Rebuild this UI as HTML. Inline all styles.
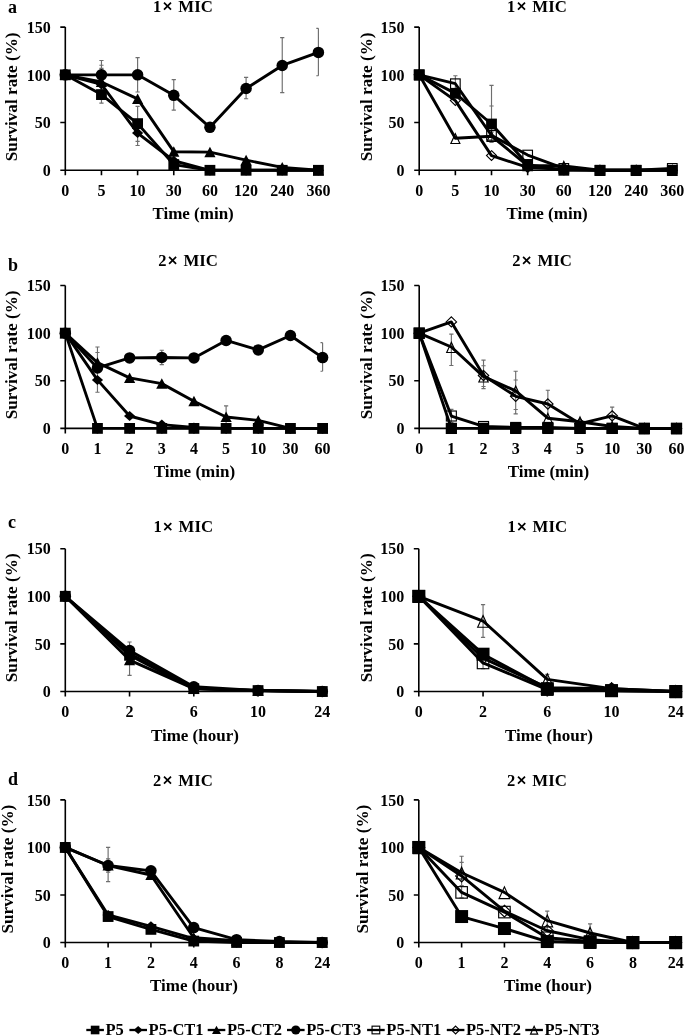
<!DOCTYPE html>
<html><head><meta charset="utf-8"><style>
html,body{margin:0;padding:0;background:#fff;}
body{width:685px;height:1036px;overflow:hidden;font-family:"Liberation Serif",serif;}
svg{display:block;filter:grayscale(1);}
</style></head><body>
<svg width="685" height="1036" viewBox="0 0 685 1036" font-family="Liberation Serif" font-weight="bold" font-size="16"><rect width="685" height="1036" fill="#fff"/><text x="7.9" y="12.5" font-size="18">a</text><path d="M65.3 27.1V170.3H318.4" fill="none" stroke="#000" stroke-width="1.6"/>
<path d="M60.3 170.3H65.3M60.3 122.57H65.3M60.3 74.83H65.3M60.3 27.1H65.3M65.3 170.3V175.3M101.46 170.3V175.3M137.61 170.3V175.3M173.77 170.3V175.3M209.93 170.3V175.3M246.09 170.3V175.3M282.24 170.3V175.3M318.4 170.3V175.3" stroke="#000" stroke-width="1.6"/>
<text x="50.7" y="176" text-anchor="end">0</text>
<text x="50.7" y="128.27" text-anchor="end">50</text>
<text x="50.7" y="80.53" text-anchor="end">100</text>
<text x="50.7" y="32.8" text-anchor="end">150</text>
<text x="65.3" y="195.5" text-anchor="middle">0</text>
<text x="101.46" y="195.5" text-anchor="middle">5</text>
<text x="137.61" y="195.5" text-anchor="middle">10</text>
<text x="173.77" y="195.5" text-anchor="middle">30</text>
<text x="209.93" y="195.5" text-anchor="middle">60</text>
<text x="246.09" y="195.5" text-anchor="middle">120</text>
<text x="282.24" y="195.5" text-anchor="middle">240</text>
<text x="318.4" y="195.5" text-anchor="middle">360</text>
<text x="153.1" y="11.8" font-size="16.5">1<tspan x="178.3" font-size="16.8">MIC</tspan></text>
<path d="M164 2.6L171 9.6M171 2.6L164 9.6" stroke="#000" stroke-width="1.7"/>
<text x="152.4" y="218.8" font-size="17">Time (min)</text>
<text transform="translate(17.1 96.9) rotate(-90)" text-anchor="middle" font-size="17.2">Survival rate (%)</text>
<path d="M101.46 60.51V90.11M99.36 60.51H103.56M99.36 90.11H103.56M101.46 65.29V93.93M99.36 65.29H103.56M99.36 93.93H103.56M101.46 68.34V98.7M99.36 68.34H103.56M99.36 98.7H103.56M101.46 86.29V103.09M99.36 86.29H103.56M99.36 103.09H103.56M137.61 57.65V92.02M135.51 57.65H139.71M135.51 92.02H139.71M137.61 106.34V141.37M135.51 106.34H139.71M135.51 141.37H139.71M137.61 120.66V145.48M135.51 120.66H139.71M135.51 145.48H139.71M173.77 79.61V110.16M171.67 79.61H175.87M171.67 110.16H175.87M246.09 77.41V98.7M243.99 77.41H248.19M243.99 98.7H248.19M282.24 37.6V92.69M280.14 37.6H284.34M280.14 92.69H284.34M318.4 28.34V75.79M316.3 28.34H318.4M316.3 75.79H318.4" fill="none" stroke="#6e6e6e" stroke-width="1.15"/>
<polyline points="65.3,74.83 101.46,84.38 137.61,133.07 173.77,160.75 209.93,170.3 246.09,170.3 282.24,170.3 318.4,170.3" fill="none" stroke="#000" stroke-width="2.9" stroke-linejoin="round"/>
<path d="M65.3 69.83L70.9 74.83L65.3 79.83L59.7 74.83Z" fill="#000"/>
<path d="M101.46 79.38L107.06 84.38L101.46 89.38L95.86 84.38Z" fill="#000"/>
<path d="M137.61 128.07L143.21 133.07L137.61 138.07L132.01 133.07Z" fill="#000"/>
<path d="M173.77 155.75L179.37 160.75L173.77 165.75L168.17 160.75Z" fill="#000"/>
<path d="M209.93 165.3L215.53 170.3L209.93 175.3L204.33 170.3Z" fill="#000"/>
<path d="M246.09 165.3L251.69 170.3L246.09 175.3L240.49 170.3Z" fill="#000"/>
<path d="M282.24 165.3L287.84 170.3L282.24 175.3L276.64 170.3Z" fill="#000"/>
<path d="M318.4 165.3L324 170.3L318.4 175.3L312.8 170.3Z" fill="#000"/>
<polyline points="65.3,74.83 101.46,81.99 137.61,98.89 173.77,151.68 209.93,152.16 246.09,160.09 282.24,167.44 318.4,170.3" fill="none" stroke="#000" stroke-width="2.9" stroke-linejoin="round"/>
<path d="M65.3 69.43L70.9 79.93L59.7 79.93Z" fill="#000"/>
<path d="M101.46 76.59L107.06 87.09L95.86 87.09Z" fill="#000"/>
<path d="M137.61 93.49L143.21 103.99L132.01 103.99Z" fill="#000"/>
<path d="M173.77 146.28L179.37 156.78L168.17 156.78Z" fill="#000"/>
<path d="M209.93 146.76L215.53 157.26L204.33 157.26Z" fill="#000"/>
<path d="M246.09 154.69L251.69 165.19L240.49 165.19Z" fill="#000"/>
<path d="M282.24 162.04L287.84 172.54L276.64 172.54Z" fill="#000"/>
<path d="M318.4 164.9L324 175.4L312.8 175.4Z" fill="#000"/>
<polyline points="65.3,74.83 101.46,74.83 137.61,74.83 173.77,95.36 209.93,127.34 246.09,88.49 282.24,65.48 318.4,52.4" fill="none" stroke="#000" stroke-width="2.9" stroke-linejoin="round"/>
<circle cx="65.3" cy="74.83" r="5.75" fill="#000"/>
<circle cx="101.46" cy="74.83" r="5.75" fill="#000"/>
<circle cx="137.61" cy="74.83" r="5.75" fill="#000"/>
<circle cx="173.77" cy="95.36" r="5.75" fill="#000"/>
<circle cx="209.93" cy="127.34" r="5.75" fill="#000"/>
<circle cx="246.09" cy="88.49" r="5.75" fill="#000"/>
<circle cx="282.24" cy="65.48" r="5.75" fill="#000"/>
<circle cx="318.4" cy="52.4" r="5.75" fill="#000"/>
<polyline points="65.3,74.83 101.46,94.59 137.61,123.62 173.77,164.57 209.93,170.3 246.09,170.3 282.24,170.3 318.4,170.3" fill="none" stroke="#000" stroke-width="2.9" stroke-linejoin="round"/>
<rect x="59.9" y="69.43" width="10.8" height="10.8" fill="#000"/>
<rect x="96.06" y="89.19" width="10.8" height="10.8" fill="#000"/>
<rect x="132.21" y="118.22" width="10.8" height="10.8" fill="#000"/>
<rect x="168.37" y="159.17" width="10.8" height="10.8" fill="#000"/>
<rect x="204.53" y="164.9" width="10.8" height="10.8" fill="#000"/>
<rect x="240.69" y="164.9" width="10.8" height="10.8" fill="#000"/>
<rect x="276.84" y="164.9" width="10.8" height="10.8" fill="#000"/>
<rect x="313" y="164.9" width="10.8" height="10.8" fill="#000"/><path d="M419.2 27.1V170.3H672.3" fill="none" stroke="#000" stroke-width="1.6"/>
<path d="M414.2 170.3H419.2M414.2 122.57H419.2M414.2 74.83H419.2M414.2 27.1H419.2M419.2 170.3V175.3M455.36 170.3V175.3M491.51 170.3V175.3M527.67 170.3V175.3M563.83 170.3V175.3M599.99 170.3V175.3M636.14 170.3V175.3M672.3 170.3V175.3" stroke="#000" stroke-width="1.6"/>
<text x="404.6" y="176" text-anchor="end">0</text>
<text x="404.6" y="128.27" text-anchor="end">50</text>
<text x="404.6" y="80.53" text-anchor="end">100</text>
<text x="404.6" y="32.8" text-anchor="end">150</text>
<text x="419.2" y="195.5" text-anchor="middle">0</text>
<text x="455.36" y="195.5" text-anchor="middle">5</text>
<text x="491.51" y="195.5" text-anchor="middle">10</text>
<text x="527.67" y="195.5" text-anchor="middle">30</text>
<text x="563.83" y="195.5" text-anchor="middle">60</text>
<text x="599.99" y="195.5" text-anchor="middle">120</text>
<text x="636.14" y="195.5" text-anchor="middle">240</text>
<text x="672.3" y="195.5" text-anchor="middle">360</text>
<text x="507.1" y="11.8" font-size="16.5">1<tspan x="532.3" font-size="16.8">MIC</tspan></text>
<path d="M518 2.6L525 9.6M525 2.6L518 9.6" stroke="#000" stroke-width="1.7"/>
<text x="506.4" y="218.8" font-size="17">Time (min)</text>
<text transform="translate(371.6 96.9) rotate(-90)" text-anchor="middle" font-size="17.2">Survival rate (%)</text>
<path d="M455.36 75.79V92.02M453.26 75.79H457.46M453.26 92.02H457.46M491.51 85.33V142.33M489.41 85.33H493.61M489.41 142.33H493.61M491.51 105.96V132.11M489.41 105.96H493.61M489.41 132.11H493.61" fill="none" stroke="#6e6e6e" stroke-width="1.15"/>
<polyline points="419.2,74.83 455.36,83.71 491.51,135.36 527.67,155.03 563.83,168.39 599.99,170.3 636.14,170.3 672.3,168.39" fill="none" stroke="#000" stroke-width="2.9" stroke-linejoin="round"/>
<rect x="414.4" y="70.03" width="9.6" height="9.6" fill="none" stroke="#000" stroke-width="1.15"/>
<rect x="450.56" y="78.91" width="9.6" height="9.6" fill="none" stroke="#000" stroke-width="1.15"/>
<rect x="486.71" y="130.56" width="9.6" height="9.6" fill="none" stroke="#000" stroke-width="1.15"/>
<rect x="522.87" y="150.23" width="9.6" height="9.6" fill="none" stroke="#000" stroke-width="1.15"/>
<rect x="559.03" y="163.59" width="9.6" height="9.6" fill="none" stroke="#000" stroke-width="1.15"/>
<rect x="595.19" y="165.5" width="9.6" height="9.6" fill="none" stroke="#000" stroke-width="1.15"/>
<rect x="631.34" y="165.5" width="9.6" height="9.6" fill="none" stroke="#000" stroke-width="1.15"/>
<rect x="667.5" y="163.59" width="9.6" height="9.6" fill="none" stroke="#000" stroke-width="1.15"/>
<polyline points="419.2,74.83 455.36,100.61 491.51,155.6 527.67,167.44 563.83,169.35 599.99,170.3 636.14,170.3 672.3,170.3" fill="none" stroke="#000" stroke-width="2.9" stroke-linejoin="round"/>
<path d="M419.2 69.93L424.2 74.83L419.2 79.73L414.2 74.83Z" fill="none" stroke="#000" stroke-width="1.15"/>
<path d="M455.36 95.71L460.36 100.61L455.36 105.51L450.36 100.61Z" fill="none" stroke="#000" stroke-width="1.15"/>
<path d="M491.51 150.7L496.51 155.6L491.51 160.5L486.51 155.6Z" fill="none" stroke="#000" stroke-width="1.15"/>
<path d="M527.67 162.54L532.67 167.44L527.67 172.34L522.67 167.44Z" fill="none" stroke="#000" stroke-width="1.15"/>
<path d="M563.83 164.45L568.83 169.35L563.83 174.25L558.83 169.35Z" fill="none" stroke="#000" stroke-width="1.15"/>
<path d="M599.99 165.4L604.99 170.3L599.99 175.2L594.99 170.3Z" fill="none" stroke="#000" stroke-width="1.15"/>
<path d="M636.14 165.4L641.14 170.3L636.14 175.2L631.14 170.3Z" fill="none" stroke="#000" stroke-width="1.15"/>
<path d="M672.3 165.4L677.3 170.3L672.3 175.2L667.3 170.3Z" fill="none" stroke="#000" stroke-width="1.15"/>
<polyline points="419.2,74.83 455.36,138.32 491.51,136.22 527.67,165.53 563.83,166 599.99,170.3 636.14,170.3 672.3,170.3" fill="none" stroke="#000" stroke-width="2.9" stroke-linejoin="round"/>
<path d="M419.2 70.23L423.7 80.03L414.7 80.03Z" fill="none" stroke="#000" stroke-width="1.15" stroke-linejoin="miter"/>
<path d="M455.36 133.72L459.86 143.52L450.86 143.52Z" fill="none" stroke="#000" stroke-width="1.15" stroke-linejoin="miter"/>
<path d="M491.51 131.62L496.01 141.42L487.01 141.42Z" fill="none" stroke="#000" stroke-width="1.15" stroke-linejoin="miter"/>
<path d="M527.67 160.93L532.17 170.73L523.17 170.73Z" fill="none" stroke="#000" stroke-width="1.15" stroke-linejoin="miter"/>
<path d="M563.83 161.4L568.33 171.2L559.33 171.2Z" fill="none" stroke="#000" stroke-width="1.15" stroke-linejoin="miter"/>
<path d="M599.99 165.7L604.49 175.5L595.49 175.5Z" fill="none" stroke="#000" stroke-width="1.15" stroke-linejoin="miter"/>
<path d="M636.14 165.7L640.64 175.5L631.64 175.5Z" fill="none" stroke="#000" stroke-width="1.15" stroke-linejoin="miter"/>
<path d="M672.3 165.7L676.8 175.5L667.8 175.5Z" fill="none" stroke="#000" stroke-width="1.15" stroke-linejoin="miter"/>
<polyline points="419.2,74.83 455.36,93.35 491.51,124 527.67,164.57 563.83,170.3 599.99,170.3 636.14,170.3 672.3,170.3" fill="none" stroke="#000" stroke-width="2.9" stroke-linejoin="round"/>
<rect x="413.8" y="69.43" width="10.8" height="10.8" fill="#000"/>
<rect x="449.96" y="87.95" width="10.8" height="10.8" fill="#000"/>
<rect x="486.11" y="118.6" width="10.8" height="10.8" fill="#000"/>
<rect x="522.27" y="159.17" width="10.8" height="10.8" fill="#000"/>
<rect x="558.43" y="164.9" width="10.8" height="10.8" fill="#000"/>
<rect x="594.59" y="164.9" width="10.8" height="10.8" fill="#000"/>
<rect x="630.74" y="164.9" width="10.8" height="10.8" fill="#000"/>
<rect x="666.9" y="164.9" width="10.8" height="10.8" fill="#000"/><text x="7.9" y="270.8" font-size="18">b</text><path d="M65.3 285.5V428.4H322.6" fill="none" stroke="#000" stroke-width="1.6"/>
<path d="M60.3 428.4H65.3M60.3 380.77H65.3M60.3 333.13H65.3M60.3 285.5H65.3M65.3 428.4V433.4M97.46 428.4V433.4M129.62 428.4V433.4M161.79 428.4V433.4M193.95 428.4V433.4M226.11 428.4V433.4M258.28 428.4V433.4M290.44 428.4V433.4M322.6 428.4V433.4" stroke="#000" stroke-width="1.6"/>
<text x="50.7" y="434.1" text-anchor="end">0</text>
<text x="50.7" y="386.47" text-anchor="end">50</text>
<text x="50.7" y="338.83" text-anchor="end">100</text>
<text x="50.7" y="291.2" text-anchor="end">150</text>
<text x="65.3" y="453.6" text-anchor="middle">0</text>
<text x="97.46" y="453.6" text-anchor="middle">1</text>
<text x="129.62" y="453.6" text-anchor="middle">2</text>
<text x="161.79" y="453.6" text-anchor="middle">3</text>
<text x="193.95" y="453.6" text-anchor="middle">4</text>
<text x="226.11" y="453.6" text-anchor="middle">5</text>
<text x="258.28" y="453.6" text-anchor="middle">10</text>
<text x="290.44" y="453.6" text-anchor="middle">30</text>
<text x="322.6" y="453.6" text-anchor="middle">60</text>
<text x="158.2" y="266" font-size="16.5">2<tspan x="183.4" font-size="16.8">MIC</tspan></text>
<path d="M169.1 256.8L176.1 263.8M176.1 256.8L169.1 263.8" stroke="#000" stroke-width="1.7"/>
<text x="153.7" y="476.6" font-size="17">Time (min)</text>
<text transform="translate(17.3 354.9) rotate(-90)" text-anchor="middle" font-size="17.2">Survival rate (%)</text>
<path d="M97.46 347.04V392.2M95.36 347.04H99.56M95.36 392.2H99.56M97.46 352.47V371.24M95.36 352.47H99.56M95.36 371.24H99.56M161.79 350.28V364.57M159.69 350.28H163.89M159.69 364.57H163.89M226.11 405.82V428.4M224.01 405.82H228.21M224.01 428.4H228.21M226.11 335.99V344.57M224.01 335.99H228.21M224.01 344.57H228.21M322.6 342.66V371.24M320.5 342.66H322.6M320.5 371.24H322.6" fill="none" stroke="#6e6e6e" stroke-width="1.15"/>
<polyline points="65.3,333.13 97.46,379.91 129.62,416.02 161.79,424.59 193.95,427.45 226.11,428.4 258.28,428.4 290.44,428.4 322.6,428.4" fill="none" stroke="#000" stroke-width="2.9" stroke-linejoin="round"/>
<path d="M65.3 328.13L70.9 333.13L65.3 338.13L59.7 333.13Z" fill="#000"/>
<path d="M97.46 374.91L103.06 379.91L97.46 384.91L91.86 379.91Z" fill="#000"/>
<path d="M129.62 411.02L135.22 416.02L129.62 421.02L124.03 416.02Z" fill="#000"/>
<path d="M161.79 419.59L167.39 424.59L161.79 429.59L156.19 424.59Z" fill="#000"/>
<path d="M193.95 422.45L199.55 427.45L193.95 432.45L188.35 427.45Z" fill="#000"/>
<path d="M226.11 423.4L231.71 428.4L226.11 433.4L220.51 428.4Z" fill="#000"/>
<path d="M258.28 423.4L263.88 428.4L258.28 433.4L252.68 428.4Z" fill="#000"/>
<path d="M290.44 423.4L296.04 428.4L290.44 433.4L284.84 428.4Z" fill="#000"/>
<path d="M322.6 423.4L328.2 428.4L322.6 433.4L317 428.4Z" fill="#000"/>
<polyline points="65.3,333.13 97.46,362.67 129.62,377.91 161.79,383.62 193.95,401.25 226.11,416.97 258.28,420.4 290.44,428.4 322.6,428.4" fill="none" stroke="#000" stroke-width="2.9" stroke-linejoin="round"/>
<path d="M65.3 327.73L70.9 338.23L59.7 338.23Z" fill="#000"/>
<path d="M97.46 357.27L103.06 367.77L91.86 367.77Z" fill="#000"/>
<path d="M129.62 372.51L135.22 383.01L124.03 383.01Z" fill="#000"/>
<path d="M161.79 378.22L167.39 388.72L156.19 388.72Z" fill="#000"/>
<path d="M193.95 395.85L199.55 406.35L188.35 406.35Z" fill="#000"/>
<path d="M226.11 411.57L231.71 422.07L220.51 422.07Z" fill="#000"/>
<path d="M258.28 415L263.88 425.5L252.68 425.5Z" fill="#000"/>
<path d="M290.44 423L296.04 433.5L284.84 433.5Z" fill="#000"/>
<path d="M322.6 423L328.2 433.5L317 433.5Z" fill="#000"/>
<polyline points="65.3,333.13 97.46,367.91 129.62,357.9 161.79,357.43 193.95,357.9 226.11,340.47 258.28,349.9 290.44,335.51 322.6,357.62" fill="none" stroke="#000" stroke-width="2.9" stroke-linejoin="round"/>
<circle cx="65.3" cy="333.13" r="5.75" fill="#000"/>
<circle cx="97.46" cy="367.91" r="5.75" fill="#000"/>
<circle cx="129.62" cy="357.9" r="5.75" fill="#000"/>
<circle cx="161.79" cy="357.43" r="5.75" fill="#000"/>
<circle cx="193.95" cy="357.9" r="5.75" fill="#000"/>
<circle cx="226.11" cy="340.47" r="5.75" fill="#000"/>
<circle cx="258.28" cy="349.9" r="5.75" fill="#000"/>
<circle cx="290.44" cy="335.51" r="5.75" fill="#000"/>
<circle cx="322.6" cy="357.62" r="5.75" fill="#000"/>
<polyline points="65.3,333.13 97.46,428.4 129.62,428.4 161.79,428.4 193.95,428.4 226.11,428.4 258.28,428.4 290.44,428.4 322.6,428.4" fill="none" stroke="#000" stroke-width="2.9" stroke-linejoin="round"/>
<rect x="59.9" y="327.73" width="10.8" height="10.8" fill="#000"/>
<rect x="92.06" y="423" width="10.8" height="10.8" fill="#000"/>
<rect x="124.22" y="423" width="10.8" height="10.8" fill="#000"/>
<rect x="156.39" y="423" width="10.8" height="10.8" fill="#000"/>
<rect x="188.55" y="423" width="10.8" height="10.8" fill="#000"/>
<rect x="220.71" y="423" width="10.8" height="10.8" fill="#000"/>
<rect x="252.88" y="423" width="10.8" height="10.8" fill="#000"/>
<rect x="285.04" y="423" width="10.8" height="10.8" fill="#000"/>
<rect x="317.2" y="423" width="10.8" height="10.8" fill="#000"/><path d="M419.2 285.5V428.4H676.5" fill="none" stroke="#000" stroke-width="1.6"/>
<path d="M414.2 428.4H419.2M414.2 380.77H419.2M414.2 333.13H419.2M414.2 285.5H419.2M419.2 428.4V433.4M451.36 428.4V433.4M483.52 428.4V433.4M515.69 428.4V433.4M547.85 428.4V433.4M580.01 428.4V433.4M612.17 428.4V433.4M644.34 428.4V433.4M676.5 428.4V433.4" stroke="#000" stroke-width="1.6"/>
<text x="404.6" y="434.1" text-anchor="end">0</text>
<text x="404.6" y="386.47" text-anchor="end">50</text>
<text x="404.6" y="338.83" text-anchor="end">100</text>
<text x="404.6" y="291.2" text-anchor="end">150</text>
<text x="419.2" y="453.6" text-anchor="middle">0</text>
<text x="451.36" y="453.6" text-anchor="middle">1</text>
<text x="483.52" y="453.6" text-anchor="middle">2</text>
<text x="515.69" y="453.6" text-anchor="middle">3</text>
<text x="547.85" y="453.6" text-anchor="middle">4</text>
<text x="580.01" y="453.6" text-anchor="middle">5</text>
<text x="612.17" y="453.6" text-anchor="middle">10</text>
<text x="644.34" y="453.6" text-anchor="middle">30</text>
<text x="676.5" y="453.6" text-anchor="middle">60</text>
<text x="512.2" y="266" font-size="16.5">2<tspan x="537.4" font-size="16.8">MIC</tspan></text>
<path d="M523.1 256.8L530.1 263.8M530.1 256.8L523.1 263.8" stroke="#000" stroke-width="1.7"/>
<text x="507.7" y="476.6" font-size="17">Time (min)</text>
<text transform="translate(371.6 354.9) rotate(-90)" text-anchor="middle" font-size="17.2">Survival rate (%)</text>
<path d="M451.36 334.09V365.52M449.26 334.09H453.46M449.26 365.52H453.46M451.36 409.35V422.68M449.26 409.35H453.46M449.26 422.68H453.46M483.52 360.19V388.67M481.42 360.19H485.62M481.42 388.67H485.62M483.52 365.71V386.48M481.42 365.71H485.62M481.42 386.48H485.62M515.69 371.24V413.92M513.59 371.24H517.79M513.59 413.92H517.79M515.69 380V409.54M513.59 380H517.79M513.59 409.54H517.79M547.85 390.29V417.92M545.75 390.29H549.95M545.75 417.92H549.95M612.17 407.06V424.59M610.07 407.06H614.27M610.07 424.59H614.27" fill="none" stroke="#6e6e6e" stroke-width="1.15"/>
<polyline points="419.2,333.13 451.36,416.02 483.52,426.49 515.69,427.45 547.85,427.45 580.01,428.4 612.17,428.4 644.34,428.4 676.5,428.4" fill="none" stroke="#000" stroke-width="2.9" stroke-linejoin="round"/>
<rect x="414.21" y="328.14" width="9.98" height="9.98" fill="none" stroke="#000" stroke-width="1.15"/>
<rect x="446.37" y="411.02" width="9.98" height="9.98" fill="none" stroke="#000" stroke-width="1.15"/>
<rect x="478.53" y="421.5" width="9.98" height="9.98" fill="none" stroke="#000" stroke-width="1.15"/>
<rect x="510.7" y="422.46" width="9.98" height="9.98" fill="none" stroke="#000" stroke-width="1.15"/>
<rect x="542.86" y="422.46" width="9.98" height="9.98" fill="none" stroke="#000" stroke-width="1.15"/>
<rect x="575.02" y="423.41" width="9.98" height="9.98" fill="none" stroke="#000" stroke-width="1.15"/>
<rect x="607.18" y="423.41" width="9.98" height="9.98" fill="none" stroke="#000" stroke-width="1.15"/>
<rect x="639.35" y="423.41" width="9.98" height="9.98" fill="none" stroke="#000" stroke-width="1.15"/>
<rect x="671.51" y="423.41" width="9.98" height="9.98" fill="none" stroke="#000" stroke-width="1.15"/>
<polyline points="419.2,333.13 451.36,321.89 483.52,375.53 515.69,396.3 547.85,404.01 580.01,423.64 612.17,415.82 644.34,428.4 676.5,428.4" fill="none" stroke="#000" stroke-width="2.9" stroke-linejoin="round"/>
<path d="M419.2 328.04L424.4 333.13L419.2 338.23L414 333.13Z" fill="none" stroke="#000" stroke-width="1.15"/>
<path d="M451.36 316.8L456.56 321.89L451.36 326.99L446.16 321.89Z" fill="none" stroke="#000" stroke-width="1.15"/>
<path d="M483.52 370.43L488.72 375.53L483.52 380.62L478.32 375.53Z" fill="none" stroke="#000" stroke-width="1.15"/>
<path d="M515.69 391.2L520.89 396.3L515.69 401.39L510.49 396.3Z" fill="none" stroke="#000" stroke-width="1.15"/>
<path d="M547.85 398.92L553.05 404.01L547.85 409.11L542.65 404.01Z" fill="none" stroke="#000" stroke-width="1.15"/>
<path d="M580.01 418.54L585.21 423.64L580.01 428.73L574.81 423.64Z" fill="none" stroke="#000" stroke-width="1.15"/>
<path d="M612.17 410.73L617.38 415.82L612.17 420.92L606.97 415.82Z" fill="none" stroke="#000" stroke-width="1.15"/>
<path d="M644.34 423.3L649.54 428.4L644.34 433.5L639.14 428.4Z" fill="none" stroke="#000" stroke-width="1.15"/>
<path d="M676.5 423.3L681.7 428.4L676.5 433.5L671.3 428.4Z" fill="none" stroke="#000" stroke-width="1.15"/>
<polyline points="419.2,333.13 451.36,347.04 483.52,376.57 515.69,390.86 547.85,418.21 580.01,421.73 612.17,426.49 644.34,428.4 676.5,428.4" fill="none" stroke="#000" stroke-width="2.9" stroke-linejoin="round"/>
<path d="M419.2 328.35L423.88 338.54L414.52 338.54Z" fill="none" stroke="#000" stroke-width="1.15" stroke-linejoin="miter"/>
<path d="M451.36 342.26L456.04 352.45L446.68 352.45Z" fill="none" stroke="#000" stroke-width="1.15" stroke-linejoin="miter"/>
<path d="M483.52 371.79L488.2 381.98L478.84 381.98Z" fill="none" stroke="#000" stroke-width="1.15" stroke-linejoin="miter"/>
<path d="M515.69 386.08L520.37 396.27L511.01 396.27Z" fill="none" stroke="#000" stroke-width="1.15" stroke-linejoin="miter"/>
<path d="M547.85 413.42L552.53 423.61L543.17 423.61Z" fill="none" stroke="#000" stroke-width="1.15" stroke-linejoin="miter"/>
<path d="M580.01 416.95L584.69 427.14L575.33 427.14Z" fill="none" stroke="#000" stroke-width="1.15" stroke-linejoin="miter"/>
<path d="M612.17 421.71L616.85 431.9L607.5 431.9Z" fill="none" stroke="#000" stroke-width="1.15" stroke-linejoin="miter"/>
<path d="M644.34 423.62L649.02 433.81L639.66 433.81Z" fill="none" stroke="#000" stroke-width="1.15" stroke-linejoin="miter"/>
<path d="M676.5 423.62L681.18 433.81L671.82 433.81Z" fill="none" stroke="#000" stroke-width="1.15" stroke-linejoin="miter"/>
<polyline points="419.2,333.13 451.36,428.4 483.52,428.4 515.69,428.4 547.85,428.4 580.01,428.4 612.17,428.4 644.34,428.4 676.5,428.4" fill="none" stroke="#000" stroke-width="2.9" stroke-linejoin="round"/>
<rect x="413.58" y="327.52" width="11.23" height="11.23" fill="#000"/>
<rect x="445.75" y="422.78" width="11.23" height="11.23" fill="#000"/>
<rect x="477.91" y="422.78" width="11.23" height="11.23" fill="#000"/>
<rect x="510.07" y="422.78" width="11.23" height="11.23" fill="#000"/>
<rect x="542.23" y="422.78" width="11.23" height="11.23" fill="#000"/>
<rect x="574.4" y="422.78" width="11.23" height="11.23" fill="#000"/>
<rect x="606.56" y="422.78" width="11.23" height="11.23" fill="#000"/>
<rect x="638.72" y="422.78" width="11.23" height="11.23" fill="#000"/>
<rect x="670.88" y="422.78" width="11.23" height="11.23" fill="#000"/><text x="7.9" y="527.5" font-size="18">c</text><path d="M65.3 548.7V691.5H322.3" fill="none" stroke="#000" stroke-width="1.6"/>
<path d="M60.3 691.5H65.3M60.3 643.9H65.3M60.3 596.3H65.3M60.3 548.7H65.3M65.3 691.5V696.5M129.55 691.5V696.5M193.8 691.5V696.5M258.05 691.5V696.5M322.3 691.5V696.5" stroke="#000" stroke-width="1.6"/>
<text x="50.7" y="697.2" text-anchor="end">0</text>
<text x="50.7" y="649.6" text-anchor="end">50</text>
<text x="50.7" y="602" text-anchor="end">100</text>
<text x="50.7" y="554.4" text-anchor="end">150</text>
<text x="65.3" y="716.7" text-anchor="middle">0</text>
<text x="129.55" y="716.7" text-anchor="middle">2</text>
<text x="193.8" y="716.7" text-anchor="middle">6</text>
<text x="258.05" y="716.7" text-anchor="middle">10</text>
<text x="322.3" y="716.7" text-anchor="middle">24</text>
<text x="153.4" y="532.3" font-size="16.5">1<tspan x="178.6" font-size="16.8">MIC</tspan></text>
<path d="M164.3 523.1L171.3 530.1M171.3 523.1L164.3 530.1" stroke="#000" stroke-width="1.7"/>
<text x="150.9" y="740.6" font-size="17">Time (hour)</text>
<text transform="translate(17.1 617.8) rotate(-90)" text-anchor="middle" font-size="17.2">Survival rate (%)</text>
<path d="M129.55 642V675.32M127.45 642H131.65M127.45 675.32H131.65" fill="none" stroke="#6e6e6e" stroke-width="1.15"/>
<polyline points="65.3,596.3 129.55,653.42 193.8,688.64 258.05,690.55 322.3,691.5" fill="none" stroke="#000" stroke-width="2.9" stroke-linejoin="round"/>
<path d="M65.3 591.3L70.9 596.3L65.3 601.3L59.7 596.3Z" fill="#000"/>
<path d="M129.55 648.42L135.15 653.42L129.55 658.42L123.95 653.42Z" fill="#000"/>
<path d="M193.8 683.64L199.4 688.64L193.8 693.64L188.2 688.64Z" fill="#000"/>
<path d="M258.05 685.55L263.65 690.55L258.05 695.55L252.45 690.55Z" fill="#000"/>
<path d="M322.3 686.5L327.9 691.5L322.3 696.5L316.7 691.5Z" fill="#000"/>
<polyline points="65.3,596.3 129.55,660.08 193.8,688.64 258.05,690.55 322.3,691.5" fill="none" stroke="#000" stroke-width="2.9" stroke-linejoin="round"/>
<path d="M65.3 590.9L70.9 601.4L59.7 601.4Z" fill="#000"/>
<path d="M129.55 654.68L135.15 665.18L123.95 665.18Z" fill="#000"/>
<path d="M193.8 683.24L199.4 693.74L188.2 693.74Z" fill="#000"/>
<path d="M258.05 685.15L263.65 695.65L252.45 695.65Z" fill="#000"/>
<path d="M322.3 686.1L327.9 696.6L316.7 696.6Z" fill="#000"/>
<polyline points="65.3,596.3 129.55,650.56 193.8,686.74 258.05,690.55 322.3,691.5" fill="none" stroke="#000" stroke-width="2.9" stroke-linejoin="round"/>
<circle cx="65.3" cy="596.3" r="5.75" fill="#000"/>
<circle cx="129.55" cy="650.56" r="5.75" fill="#000"/>
<circle cx="193.8" cy="686.74" r="5.75" fill="#000"/>
<circle cx="258.05" cy="690.55" r="5.75" fill="#000"/>
<circle cx="322.3" cy="691.5" r="5.75" fill="#000"/>
<polyline points="65.3,596.3 129.55,655.32 193.8,688.64 258.05,690.55 322.3,691.5" fill="none" stroke="#000" stroke-width="2.9" stroke-linejoin="round"/>
<rect x="59.9" y="590.9" width="10.8" height="10.8" fill="#000"/>
<rect x="124.15" y="649.92" width="10.8" height="10.8" fill="#000"/>
<rect x="188.4" y="683.24" width="10.8" height="10.8" fill="#000"/>
<rect x="252.65" y="685.15" width="10.8" height="10.8" fill="#000"/>
<rect x="316.9" y="686.1" width="10.8" height="10.8" fill="#000"/><path d="M418.8 548.7V691.5H675.8" fill="none" stroke="#000" stroke-width="1.6"/>
<path d="M413.8 691.5H418.8M413.8 643.9H418.8M413.8 596.3H418.8M413.8 548.7H418.8M418.8 691.5V696.5M483.05 691.5V696.5M547.3 691.5V696.5M611.55 691.5V696.5M675.8 691.5V696.5" stroke="#000" stroke-width="1.6"/>
<text x="404.2" y="697.2" text-anchor="end">0</text>
<text x="404.2" y="649.6" text-anchor="end">50</text>
<text x="404.2" y="602" text-anchor="end">100</text>
<text x="404.2" y="554.4" text-anchor="end">150</text>
<text x="418.8" y="716.7" text-anchor="middle">0</text>
<text x="483.05" y="716.7" text-anchor="middle">2</text>
<text x="547.3" y="716.7" text-anchor="middle">6</text>
<text x="611.55" y="716.7" text-anchor="middle">10</text>
<text x="675.8" y="716.7" text-anchor="middle">24</text>
<text x="507.4" y="532.3" font-size="16.5">1<tspan x="532.6" font-size="16.8">MIC</tspan></text>
<path d="M518.3 523.1L525.3 530.1M525.3 523.1L518.3 530.1" stroke="#000" stroke-width="1.7"/>
<text x="504.9" y="740.6" font-size="17">Time (hour)</text>
<text transform="translate(371.6 617.8) rotate(-90)" text-anchor="middle" font-size="17.2">Survival rate (%)</text>
<path d="M483.05 604.58V637.43M480.95 604.58H485.15M480.95 637.43H485.15M483.05 658.18V668.65M480.95 658.18H485.15M480.95 668.65H485.15M547.3 674.36V683.88M545.2 674.36H549.4M545.2 683.88H549.4M611.55 683.88V691.5M609.45 683.88H613.65M609.45 691.5H613.65" fill="none" stroke="#6e6e6e" stroke-width="1.15"/>
<polyline points="418.8,596.3 483.05,662.94 547.3,689.6 611.55,690.55 675.8,691.5" fill="none" stroke="#000" stroke-width="2.9" stroke-linejoin="round"/>
<rect x="413.04" y="590.54" width="11.52" height="11.52" fill="none" stroke="#000" stroke-width="1.15"/>
<rect x="477.29" y="657.18" width="11.52" height="11.52" fill="none" stroke="#000" stroke-width="1.15"/>
<rect x="541.54" y="683.84" width="11.52" height="11.52" fill="none" stroke="#000" stroke-width="1.15"/>
<rect x="605.79" y="684.79" width="11.52" height="11.52" fill="none" stroke="#000" stroke-width="1.15"/>
<rect x="670.04" y="685.74" width="11.52" height="11.52" fill="none" stroke="#000" stroke-width="1.15"/>
<polyline points="418.8,596.3 483.05,658.18 547.3,687.69 611.55,688.64 675.8,691.5" fill="none" stroke="#000" stroke-width="2.9" stroke-linejoin="round"/>
<path d="M418.8 590.42L424.8 596.3L418.8 602.18L412.8 596.3Z" fill="none" stroke="#000" stroke-width="1.15"/>
<path d="M483.05 652.3L489.05 658.18L483.05 664.06L477.05 658.18Z" fill="none" stroke="#000" stroke-width="1.15"/>
<path d="M547.3 681.81L553.3 687.69L547.3 693.57L541.3 687.69Z" fill="none" stroke="#000" stroke-width="1.15"/>
<path d="M611.55 682.76L617.55 688.64L611.55 694.52L605.55 688.64Z" fill="none" stroke="#000" stroke-width="1.15"/>
<path d="M675.8 685.62L681.8 691.5L675.8 697.38L669.8 691.5Z" fill="none" stroke="#000" stroke-width="1.15"/>
<polyline points="418.8,596.3 483.05,621.05 547.3,679.31 611.55,688.64 675.8,691.5" fill="none" stroke="#000" stroke-width="2.9" stroke-linejoin="round"/>
<path d="M418.8 590.78L424.2 602.54L413.4 602.54Z" fill="none" stroke="#000" stroke-width="1.15" stroke-linejoin="miter"/>
<path d="M483.05 615.53L488.45 627.29L477.65 627.29Z" fill="none" stroke="#000" stroke-width="1.15" stroke-linejoin="miter"/>
<path d="M547.3 673.79L552.7 685.55L541.9 685.55Z" fill="none" stroke="#000" stroke-width="1.15" stroke-linejoin="miter"/>
<path d="M611.55 683.12L616.95 694.88L606.15 694.88Z" fill="none" stroke="#000" stroke-width="1.15" stroke-linejoin="miter"/>
<path d="M675.8 685.98L681.2 697.74L670.4 697.74Z" fill="none" stroke="#000" stroke-width="1.15" stroke-linejoin="miter"/>
<polyline points="418.8,596.3 483.05,654.18 547.3,688.64 611.55,690.74 675.8,691.5" fill="none" stroke="#000" stroke-width="2.9" stroke-linejoin="round"/>
<rect x="412.32" y="589.82" width="12.96" height="12.96" fill="#000"/>
<rect x="476.57" y="647.7" width="12.96" height="12.96" fill="#000"/>
<rect x="540.82" y="682.16" width="12.96" height="12.96" fill="#000"/>
<rect x="605.07" y="684.26" width="12.96" height="12.96" fill="#000"/>
<rect x="669.32" y="685.02" width="12.96" height="12.96" fill="#000"/><text x="7.9" y="785" font-size="18">d</text><path d="M65.3 799.9V942.5H322.2" fill="none" stroke="#000" stroke-width="1.6"/>
<path d="M60.3 942.5H65.3M60.3 894.97H65.3M60.3 847.43H65.3M60.3 799.9H65.3M65.3 942.5V947.5M108.12 942.5V947.5M150.93 942.5V947.5M193.75 942.5V947.5M236.57 942.5V947.5M279.38 942.5V947.5M322.2 942.5V947.5" stroke="#000" stroke-width="1.6"/>
<text x="50.7" y="948.2" text-anchor="end">0</text>
<text x="50.7" y="900.67" text-anchor="end">50</text>
<text x="50.7" y="853.13" text-anchor="end">100</text>
<text x="50.7" y="805.6" text-anchor="end">150</text>
<text x="65.3" y="967.7" text-anchor="middle">0</text>
<text x="108.12" y="967.7" text-anchor="middle">1</text>
<text x="150.93" y="967.7" text-anchor="middle">2</text>
<text x="193.75" y="967.7" text-anchor="middle">4</text>
<text x="236.57" y="967.7" text-anchor="middle">6</text>
<text x="279.38" y="967.7" text-anchor="middle">8</text>
<text x="322.2" y="967.7" text-anchor="middle">24</text>
<text x="153.1" y="785.8" font-size="16.5">2<tspan x="178.3" font-size="16.8">MIC</tspan></text>
<path d="M164 776.6L171 783.6M171 776.6L164 783.6" stroke="#000" stroke-width="1.7"/>
<text x="150" y="991.4" font-size="17">Time (hour)</text>
<text transform="translate(13.3 869.1) rotate(-90)" text-anchor="middle" font-size="17.2">Survival rate (%)</text>
<path d="M108.12 847.43V881.66M106.02 847.43H110.22M106.02 881.66H110.22M108.12 858.84V872.15M106.02 858.84H110.22M106.02 872.15H110.22" fill="none" stroke="#6e6e6e" stroke-width="1.15"/>
<polyline points="65.3,847.43 108.12,914.93 150.93,926.34 193.75,938.7 236.57,941.55 279.38,942.5 322.2,942.5" fill="none" stroke="#000" stroke-width="2.9" stroke-linejoin="round"/>
<path d="M65.3 842.43L70.9 847.43L65.3 852.43L59.7 847.43Z" fill="#000"/>
<path d="M108.12 909.93L113.72 914.93L108.12 919.93L102.52 914.93Z" fill="#000"/>
<path d="M150.93 921.34L156.53 926.34L150.93 931.34L145.33 926.34Z" fill="#000"/>
<path d="M193.75 933.7L199.35 938.7L193.75 943.7L188.15 938.7Z" fill="#000"/>
<path d="M236.57 936.55L242.17 941.55L236.57 946.55L230.97 941.55Z" fill="#000"/>
<path d="M279.38 937.5L284.98 942.5L279.38 947.5L273.78 942.5Z" fill="#000"/>
<path d="M322.2 937.5L327.8 942.5L322.2 947.5L316.6 942.5Z" fill="#000"/>
<polyline points="65.3,847.43 108.12,865.5 150.93,875 193.75,937.75 236.57,940.6 279.38,942.5 322.2,942.5" fill="none" stroke="#000" stroke-width="2.9" stroke-linejoin="round"/>
<path d="M65.3 842.03L70.9 852.53L59.7 852.53Z" fill="#000"/>
<path d="M108.12 860.1L113.72 870.6L102.52 870.6Z" fill="#000"/>
<path d="M150.93 869.6L156.53 880.1L145.33 880.1Z" fill="#000"/>
<path d="M193.75 932.35L199.35 942.85L188.15 942.85Z" fill="#000"/>
<path d="M236.57 935.2L242.17 945.7L230.97 945.7Z" fill="#000"/>
<path d="M279.38 937.1L284.98 947.6L273.78 947.6Z" fill="#000"/>
<path d="M322.2 937.1L327.8 947.6L316.6 947.6Z" fill="#000"/>
<polyline points="65.3,847.43 108.12,865.5 150.93,870.82 193.75,927.57 236.57,939.65 279.38,941.55 322.2,942.5" fill="none" stroke="#000" stroke-width="2.9" stroke-linejoin="round"/>
<circle cx="65.3" cy="847.43" r="5.75" fill="#000"/>
<circle cx="108.12" cy="865.5" r="5.75" fill="#000"/>
<circle cx="150.93" cy="870.82" r="5.75" fill="#000"/>
<circle cx="193.75" cy="927.57" r="5.75" fill="#000"/>
<circle cx="236.57" cy="939.65" r="5.75" fill="#000"/>
<circle cx="279.38" cy="941.55" r="5.75" fill="#000"/>
<circle cx="322.2" cy="942.5" r="5.75" fill="#000"/>
<polyline points="65.3,847.43 108.12,916.55 150.93,929.38 193.75,941.07 236.57,942.5 279.38,942.5 322.2,942.5" fill="none" stroke="#000" stroke-width="2.9" stroke-linejoin="round"/>
<rect x="59.9" y="842.03" width="10.8" height="10.8" fill="#000"/>
<rect x="102.72" y="911.15" width="10.8" height="10.8" fill="#000"/>
<rect x="145.53" y="923.98" width="10.8" height="10.8" fill="#000"/>
<rect x="188.35" y="935.67" width="10.8" height="10.8" fill="#000"/>
<rect x="231.17" y="937.1" width="10.8" height="10.8" fill="#000"/>
<rect x="273.98" y="937.1" width="10.8" height="10.8" fill="#000"/>
<rect x="316.8" y="937.1" width="10.8" height="10.8" fill="#000"/><path d="M418.8 799.9V942.5H675.7" fill="none" stroke="#000" stroke-width="1.6"/>
<path d="M413.8 942.5H418.8M413.8 894.97H418.8M413.8 847.43H418.8M413.8 799.9H418.8M418.8 942.5V947.5M461.62 942.5V947.5M504.43 942.5V947.5M547.25 942.5V947.5M590.07 942.5V947.5M632.88 942.5V947.5M675.7 942.5V947.5" stroke="#000" stroke-width="1.6"/>
<text x="404.2" y="948.2" text-anchor="end">0</text>
<text x="404.2" y="900.67" text-anchor="end">50</text>
<text x="404.2" y="853.13" text-anchor="end">100</text>
<text x="404.2" y="805.6" text-anchor="end">150</text>
<text x="418.8" y="967.7" text-anchor="middle">0</text>
<text x="461.62" y="967.7" text-anchor="middle">1</text>
<text x="504.43" y="967.7" text-anchor="middle">2</text>
<text x="547.25" y="967.7" text-anchor="middle">4</text>
<text x="590.07" y="967.7" text-anchor="middle">6</text>
<text x="632.88" y="967.7" text-anchor="middle">8</text>
<text x="675.7" y="967.7" text-anchor="middle">24</text>
<text x="507.1" y="785.8" font-size="16.5">2<tspan x="532.3" font-size="16.8">MIC</tspan></text>
<path d="M518 776.6L525 783.6M525 776.6L518 783.6" stroke="#000" stroke-width="1.7"/>
<text x="504" y="991.4" font-size="17">Time (hour)</text>
<text transform="translate(368 869.1) rotate(-90)" text-anchor="middle" font-size="17.2">Survival rate (%)</text>
<path d="M461.62 856.27V897.82M459.52 856.27H463.72M459.52 897.82H463.72M461.62 862.36V885.46M459.52 862.36H463.72M459.52 885.46H463.72M547.25 911.13V930.14M545.15 911.13H549.35M545.15 930.14H549.35M590.07 923.87V940.6M587.97 923.87H592.17M587.97 940.6H592.17" fill="none" stroke="#6e6e6e" stroke-width="1.15"/>
<polyline points="418.8,847.43 461.62,892.4 504.43,912.08 547.25,937.75 590.07,941.55 632.88,942.5 675.7,942.5" fill="none" stroke="#000" stroke-width="2.9" stroke-linejoin="round"/>
<rect x="413.04" y="841.67" width="11.52" height="11.52" fill="none" stroke="#000" stroke-width="1.15"/>
<rect x="455.86" y="886.64" width="11.52" height="11.52" fill="none" stroke="#000" stroke-width="1.15"/>
<rect x="498.67" y="906.32" width="11.52" height="11.52" fill="none" stroke="#000" stroke-width="1.15"/>
<rect x="541.49" y="931.99" width="11.52" height="11.52" fill="none" stroke="#000" stroke-width="1.15"/>
<rect x="584.31" y="935.79" width="11.52" height="11.52" fill="none" stroke="#000" stroke-width="1.15"/>
<rect x="627.12" y="936.74" width="11.52" height="11.52" fill="none" stroke="#000" stroke-width="1.15"/>
<rect x="669.94" y="936.74" width="11.52" height="11.52" fill="none" stroke="#000" stroke-width="1.15"/>
<polyline points="418.8,847.43 461.62,875.95 504.43,911.13 547.25,930.71 590.07,939.65 632.88,942.5 675.7,942.5" fill="none" stroke="#000" stroke-width="2.9" stroke-linejoin="round"/>
<path d="M418.8 841.55L424.8 847.43L418.8 853.31L412.8 847.43Z" fill="none" stroke="#000" stroke-width="1.15"/>
<path d="M461.62 870.07L467.62 875.95L461.62 881.83L455.62 875.95Z" fill="none" stroke="#000" stroke-width="1.15"/>
<path d="M504.43 905.25L510.43 911.13L504.43 917.01L498.43 911.13Z" fill="none" stroke="#000" stroke-width="1.15"/>
<path d="M547.25 924.83L553.25 930.71L547.25 936.59L541.25 930.71Z" fill="none" stroke="#000" stroke-width="1.15"/>
<path d="M590.07 933.77L596.07 939.65L590.07 945.53L584.07 939.65Z" fill="none" stroke="#000" stroke-width="1.15"/>
<path d="M632.88 936.62L638.88 942.5L632.88 948.38L626.88 942.5Z" fill="none" stroke="#000" stroke-width="1.15"/>
<path d="M675.7 936.62L681.7 942.5L675.7 948.38L669.7 942.5Z" fill="none" stroke="#000" stroke-width="1.15"/>
<polyline points="418.8,847.43 461.62,872.72 504.43,892.4 547.25,920.63 590.07,932.99 632.88,942.5 675.7,942.5" fill="none" stroke="#000" stroke-width="2.9" stroke-linejoin="round"/>
<path d="M418.8 841.91L424.2 853.67L413.4 853.67Z" fill="none" stroke="#000" stroke-width="1.15" stroke-linejoin="miter"/>
<path d="M461.62 867.2L467.02 878.96L456.22 878.96Z" fill="none" stroke="#000" stroke-width="1.15" stroke-linejoin="miter"/>
<path d="M504.43 886.88L509.83 898.64L499.03 898.64Z" fill="none" stroke="#000" stroke-width="1.15" stroke-linejoin="miter"/>
<path d="M547.25 915.11L552.65 926.87L541.85 926.87Z" fill="none" stroke="#000" stroke-width="1.15" stroke-linejoin="miter"/>
<path d="M590.07 927.47L595.47 939.23L584.67 939.23Z" fill="none" stroke="#000" stroke-width="1.15" stroke-linejoin="miter"/>
<path d="M632.88 936.98L638.28 948.74L627.48 948.74Z" fill="none" stroke="#000" stroke-width="1.15" stroke-linejoin="miter"/>
<path d="M675.7 936.98L681.1 948.74L670.3 948.74Z" fill="none" stroke="#000" stroke-width="1.15" stroke-linejoin="miter"/>
<polyline points="418.8,847.43 461.62,916.55 504.43,928.53 547.25,941.55 590.07,942.5 632.88,942.5 675.7,942.5" fill="none" stroke="#000" stroke-width="2.9" stroke-linejoin="round"/>
<rect x="412.32" y="840.95" width="12.96" height="12.96" fill="#000"/>
<rect x="455.14" y="910.07" width="12.96" height="12.96" fill="#000"/>
<rect x="497.95" y="922.05" width="12.96" height="12.96" fill="#000"/>
<rect x="540.77" y="935.07" width="12.96" height="12.96" fill="#000"/>
<rect x="583.59" y="936.02" width="12.96" height="12.96" fill="#000"/>
<rect x="626.4" y="936.02" width="12.96" height="12.96" fill="#000"/>
<rect x="669.22" y="936.02" width="12.96" height="12.96" fill="#000"/><path d="M86.3 1030H103.9" stroke="#000" stroke-width="2.3"/><rect x="90.78" y="1025.68" width="8.64" height="8.64" fill="#000"/><text x="105.5" y="1034.8" font-size="16.5">P5</text><path d="M129.4 1030H147" stroke="#000" stroke-width="2.3"/><path d="M138.2 1026L142.68 1030L138.2 1034L133.72 1030Z" fill="#000"/><text x="148.6" y="1034.8" font-size="16.5">P5-CT1</text><path d="M207.7 1030H225.3" stroke="#000" stroke-width="2.3"/><path d="M216.5 1025.68L220.98 1034.08L212.02 1034.08Z" fill="#000"/><text x="226.9" y="1034.8" font-size="16.5">P5-CT2</text><path d="M287 1030H304.6" stroke="#000" stroke-width="2.3"/><circle cx="295.8" cy="1030" r="4.6" fill="#000"/><text x="306.2" y="1034.8" font-size="16.5">P5-CT3</text><path d="M367.1 1030H384.7" stroke="#000" stroke-width="2.3"/><rect x="372.06" y="1026.16" width="7.68" height="7.68" fill="none" stroke="#000" stroke-width="1.15"/><text x="386.3" y="1034.8" font-size="16.5">P5-NT1</text><path d="M446.8 1030H464.4" stroke="#000" stroke-width="2.3"/><path d="M455.6 1026.08L459.6 1030L455.6 1033.92L451.6 1030Z" fill="none" stroke="#000" stroke-width="1.15"/><text x="466" y="1034.8" font-size="16.5">P5-NT2</text><path d="M525.3 1030H542.9" stroke="#000" stroke-width="2.3"/><path d="M534.1 1026.32L537.7 1034.16L530.5 1034.16Z" fill="none" stroke="#000" stroke-width="1.15" stroke-linejoin="miter"/><text x="544.5" y="1034.8" font-size="16.5">P5-NT3</text></svg>
</body></html>
